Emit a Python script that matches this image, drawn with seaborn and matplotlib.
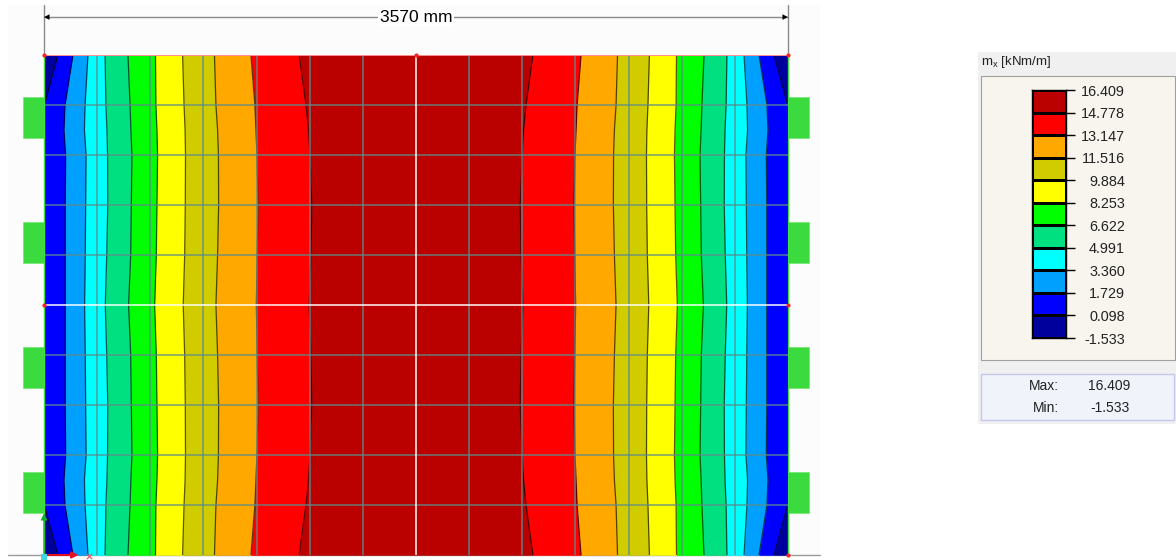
#!/usr/bin/env python
# coding=utf-8
import numpy as np
import pandas as pd
import seaborn as sns
import matplotlib.pyplot as plt
from matplotlib.colors import ListedColormap, BoundaryNorm
from matplotlib.patches import Rectangle, Wedge

plate_width = 3570
plate_height = 2400

# stations down the plate, mm from the top edge
stations = [0, 240, 360, 480, 720, 960, 1200, 1440, 1680, 1920, 2040, 2160, 2400]

# isoline positions in mm from the left edge, one value per station
left_0 = [67, 2, np.nan, np.nan, np.nan, np.nan, np.nan, np.nan, np.nan, np.nan, np.nan, 2, 67]
left_1 = [139, 101, 96, 104, 102, 102, 102, 102, 102, 104, 96, 101, 139]
left_2 = [211, 197, 194, 202, 200, 198, 195, 198, 200, 202, 194, 197, 211]
left_3 = [293, 297, 302, 305, 306, 301, 294, 301, 306, 305, 302, 297, 293]
left_4 = [403, 413, 417, 422, 419, 416, 406, 416, 419, 422, 417, 413, 403]
left_5 = [535, 537, 542, 545, 542, 539, 531, 539, 542, 545, 542, 537, 535]
left_6 = [665, 672, 677, 679, 678, 675, 668, 675, 678, 679, 677, 672, 665]
left_7 = [818, 825, 833, 837, 838, 833, 825, 833, 838, 837, 833, 825, 818]
left_8 = [993, 1012, 1017, 1022, 1027, 1023, 1019, 1023, 1027, 1022, 1017, 1012, 993]
left_9 = [1224, 1257, 1269, 1276, 1285, 1281, 1272, 1281, 1285, 1276, 1269, 1257, 1224]

right_9 = [2346, 2313, 2301, 2294, 2285, 2289, 2298, 2289, 2285, 2294, 2301, 2313, 2346]
right_8 = [2577, 2558, 2553, 2548, 2543, 2547, 2551, 2547, 2543, 2548, 2553, 2558, 2577]
right_7 = [2752, 2745, 2737, 2733, 2732, 2737, 2745, 2737, 2732, 2733, 2737, 2745, 2752]
right_6 = [2905, 2898, 2893, 2891, 2892, 2895, 2902, 2895, 2892, 2891, 2893, 2898, 2905]
right_5 = [3035, 3033, 3028, 3025, 3028, 3031, 3039, 3031, 3028, 3025, 3028, 3033, 3035]
right_4 = [3167, 3157, 3153, 3148, 3151, 3154, 3164, 3154, 3151, 3148, 3153, 3157, 3167]
right_3 = [3277, 3273, 3268, 3265, 3264, 3269, 3276, 3269, 3264, 3265, 3268, 3273, 3277]
right_2 = [3359, 3373, 3376, 3368, 3370, 3372, 3375, 3372, 3370, 3368, 3376, 3373, 3359]
right_1 = [3431, 3469, 3474, 3466, 3468, 3468, 3468, 3468, 3468, 3466, 3474, 3469, 3431]
right_0 = [3503, 3568, np.nan, np.nan, np.nan, np.nan, np.nan, np.nan, np.nan, np.nan, np.nan, 3568, 3503]

# legend, low to high
levels = [-1.533, 0.098, 1.729, 3.360, 4.991, 6.622, 8.253, 9.884, 11.516, 13.147, 14.778, 16.409]
band_colors = ["#00009C", "#0000FF", "#00A0FF", "#00FFFF", "#00E080", "#00FF00",
               "#FFFF00", "#D0CC00", "#FFA800", "#FF0000", "#BB0000"]
tick_labels = ["16.409", "14.778", "13.147", "11.516", "9.884", "8.253",
               "6.622", "4.991", "3.360", "1.729", "0.098", "-1.533"]
max_label = "16.409"
min_label = "-1.533"
unit_label = "m$_{\\mathrm{x}}$ [kNm/m]"
dimension_label = "3570 mm"

grid_x = [255, 510, 765, 1020, 1275, 1530, 2040, 2295, 2550, 2805, 3060, 3315]
grid_y = [240, 480, 720, 960, 1440, 1680, 1920, 2160]
support_y = [300, 900, 1500, 2100]

sns.set_style("white")
plt.rcParams['font.family'] = ['Liberation Sans', 'DejaVu Sans']
plt.rcParams['mathtext.fontset'] = 'custom'
plt.rcParams['mathtext.rm'] = 'Liberation Sans'

W, H = 1176, 560
fig = plt.figure(figsize=[W / 100, H / 100], dpi=100)

# pixel sized backdrop for the panels and frame
bg = fig.add_axes([0, 0, 1, 1], zorder=0)
bg.set_xlim(0, W)
bg.set_ylim(H, 0)
bg.set_axis_off()
bg.add_patch(Rectangle((8, 5), 812, 550, fc="#FCFCFC", ec="none"))
bg.plot([8, 820], [555, 555], color="#9A9A9A", lw=1)

# legend panel
bg.add_patch(Rectangle((978, 52), 198, 372, fc="#F0F0F0", ec="none"))
bg.add_patch(Rectangle((981, 76), 194, 284, fc="#F8F5EF", ec="#A0A0A0", lw=0.8))
bg.add_patch(Rectangle((981, 374), 193, 46, fc="#F0F3FA", ec="#C4C8EC", lw=1))
bg.text(981, 62, unit_label, fontsize=9.5, va="center", ha="left", color="#222222")
bg.text(1059, 386, "Max:", fontsize=10, va="center", ha="right", color="#222222")
bg.text(1130, 386, max_label, fontsize=10, va="center", ha="right", color="#222222")
bg.text(1059, 408, "Min:", fontsize=10, va="center", ha="right", color="#222222")
bg.text(1130, 408, min_label, fontsize=10, va="center", ha="right", color="#222222")

# the plate
ax = fig.add_axes([44 / W, 1 - 555 / H, 744 / W, 500 / H], zorder=2)
ax.set_xlim(0, plate_width)
ax.set_ylim(plate_height, 0)
ax.set_axis_off()

y = np.array(stations)
left_lines = [left_0, left_1, left_2, left_3, left_4, left_5, left_6, left_7, left_8, left_9]
right_lines = [right_9, right_8, right_7, right_6, right_5, right_4, right_3, right_2, right_1, right_0]
edges = [np.zeros(len(y))]
edges += [np.nan_to_num(np.array(e), nan=0.0) for e in left_lines]
edges += [np.nan_to_num(np.array(e), nan=plate_width) for e in right_lines]
edges += [np.full(len(y), plate_width)]
fill_colors = band_colors + band_colors[:-1][::-1]
for i in range(len(fill_colors)):
    ax.fill_betweenx(y, edges[i], edges[i + 1], color=fill_colors[i], lw=0, zorder=1)

# isolines
rows = []
for n, line in enumerate(left_lines + right_lines):
    for s, v in zip(stations, line):
        rows.append({"line": n, "y": s, "x": v})
iso = pd.DataFrame(rows)
sns.lineplot(data=iso, x="x", y="y", units="line", estimator=None, orient="y", sort=False,
             color="black", lw=0.9, alpha=0.65, legend=False, ax=ax, zorder=2)
ax.set_xlim(0, plate_width)
ax.set_ylim(plate_height, 0)

# mesh
for gx in grid_x:
    ax.axvline(gx, color="#5C8C8C", lw=1.1, alpha=0.85, zorder=3)
for gy in grid_y:
    ax.axhline(gy, color="#5C8C8C", lw=1.1, alpha=0.85, zorder=3)
ax.axvline(plate_width / 2, color="white", lw=1.2, alpha=0.9, zorder=3)
ax.axhline(plate_height / 2, color="white", lw=1.2, alpha=0.9, zorder=3)

# plate edges
ax.plot([0, 0], [0, plate_height], color="#40E040", lw=1, clip_on=False, zorder=4)
ax.plot([plate_width, plate_width], [0, plate_height], color="#40E040", lw=1, clip_on=False, zorder=4)
ax.plot([0, plate_width], [0, 0], color="#FF9090", lw=0.7, clip_on=False, zorder=4)

# supports
for sy in support_y:
    ax.add_patch(Rectangle((-101, sy - 98), 101, 196, fc="#3BDB40", ec="#70E870", lw=0.5, clip_on=False, zorder=1))
    ax.add_patch(Rectangle((plate_width, sy - 98), 101, 196, fc="#3BDB40", ec="#70E870", lw=0.5, clip_on=False, zorder=1))
    ax.scatter([-2, plate_width + 2], [sy, sy], s=320, color="#1FE825", lw=0, clip_on=False, zorder=0.9)
    ax.add_patch(Rectangle((-101, sy - 98), 0.1, 0.1, fc="none", ec="none"))

# the circles only show on the outer side of the plate, the field covers the rest
for i in range(len(fill_colors)):
    ax.fill_betweenx(y, edges[i], edges[i + 1], color=fill_colors[i], lw=0, zorder=1.5)

# dimension line
dim_y = -182
ax.plot([0, plate_width], [dim_y, dim_y], color="#8A8A8A", lw=1, clip_on=False, zorder=2)
ax.plot([0, 0], [-240, 0], color="#8A8A8A", lw=1, clip_on=False, zorder=2)
ax.plot([plate_width, plate_width], [-240, 0], color="#8A8A8A", lw=1, clip_on=False, zorder=2)
for a, b in [(0, 150), (plate_width, plate_width - 150)]:
    ax.annotate("", xy=(a, dim_y), xytext=(b, dim_y), annotation_clip=False, zorder=3,
                arrowprops=dict(arrowstyle="-|>", color="black", lw=0, mutation_scale=10, shrinkA=0, shrinkB=0))
ax.text(plate_width / 2, dim_y, dimension_label, fontsize=12.5, ha="center", va="center", color="black",
        zorder=4, clip_on=False, bbox=dict(fc="white", ec="none", pad=1.5))

# nodes
ax.scatter([0, plate_width / 2, plate_width, 0, plate_width, plate_width], [0, 0, 0, plate_height / 2, plate_height / 2, plate_height],
           s=9, color="#FF2020", lw=0, clip_on=False, zorder=5)

# coordinate triad
ax.annotate("", xy=(0, 2200), xytext=(0, 2400), annotation_clip=False, zorder=5,
            arrowprops=dict(arrowstyle="-|>", color="#10B030", lw=1, mutation_scale=9, shrinkA=0, shrinkB=0))
ax.annotate("", xy=(165, 2400), xytext=(0, 2400), annotation_clip=False, zorder=5,
            arrowprops=dict(arrowstyle="-|>", color="#E01020", lw=1.5, mutation_scale=9, shrinkA=0, shrinkB=0))
ax.scatter([215], [2405], s=16, marker="x", color="#F05060", lw=0.8, clip_on=False, zorder=5)
ax.scatter([0], [2410], s=18, marker="s", color="#40D8E0", lw=0, clip_on=False, zorder=6)

# legend colour scale
cax = fig.add_axes([1032 / W, 1 - 338 / H, 34 / W, 248 / H], zorder=3)
lv = np.array(levels)
mids = ((lv[:-1] + lv[1:]) / 2)[::-1].reshape(-1, 1)
sns.heatmap(mids, ax=cax, cbar=False, cmap=ListedColormap(band_colors), norm=BoundaryNorm(levels, len(band_colors)),
            linewidths=1, linecolor="black", xticklabels=False, yticklabels=False)
for sp in cax.spines.values():
    sp.set_visible(True)
    sp.set_color("black")
    sp.set_linewidth(1)
cax.yaxis.tick_right()
cax.set_yticks(np.arange(len(tick_labels)))
cax.set_yticklabels(tick_labels, rotation=0)
cax.tick_params(axis="y", right=True, left=False, length=6.5, width=1, color="black", pad=36, labelsize=10.4,
                labelcolor="#222222")
for t in cax.get_yticklabels():
    t.set_ha("right")

fig.savefig("out.png", dpi=100)
